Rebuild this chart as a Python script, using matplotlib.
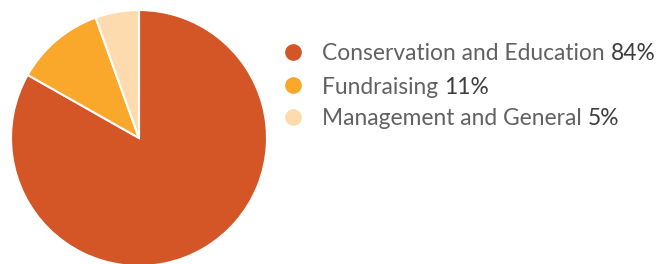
import matplotlib.pyplot as plt
from matplotlib.lines import Line2D

# Data
labels = ['Conservation and Education', 'Fundraising', 'Management and General']
shares = [83.2, 11.3, 5.5]        # wedge sizes as drawn
pct_labels = ['84%', '11%', '5%']  # percentages as printed in the legend
colors = ['#D45627', '#F9A82C', '#FDDBAE']

fig = plt.figure(figsize=(6.65, 2.64), dpi=100)

# pie axes: centre at (139, 138) px from top-left, radius 128 px
W, H = 665, 264
cx, cy, r = 139, 138, 128
ax = fig.add_axes([(cx - r) / W, (H - cy - r) / H, 2 * r / W, 2 * r / H])
ax.pie(shares, colors=colors, startangle=90, counterclock=False, radius=1,
       wedgeprops=dict(edgecolor='white', linewidth=1.5))
ax.set_xlim(-1, 1)
ax.set_ylim(-1, 1)
ax.set_aspect('auto')
ax.axis('off')

# legend drawn by hand so the percentage can have its own colour
font = 'Lato'
size = 16.4
row_y = [52, 85, 117]
renderer = fig.canvas.get_renderer()
for lab, pct, col, y in zip(labels, pct_labels, colors, row_y):
    yf = 1 - y / H
    fig.add_artist(Line2D([293 / W], [yf], marker='o', markersize=11,
                          color=col, linestyle='none', transform=fig.transFigure))
    t = fig.text(322 / W, yf, lab + ' ', fontsize=size, family=font,
                 color='#616161', va='center_baseline')
    bb = t.get_window_extent(renderer)
    fig.text(bb.x1 / W, yf, pct, fontsize=size, family=font,
             color='#3d3d3d', va='center_baseline')

fig.savefig('out.png', dpi=100)
